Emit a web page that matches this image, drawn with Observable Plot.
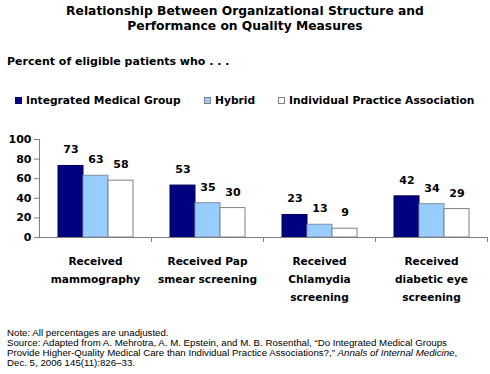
<!DOCTYPE html>
<html>
<head>
<meta charset="utf-8">
<script src="https://cdn.jsdelivr.net/npm/d3@7"></script>
<script src="https://cdn.jsdelivr.net/npm/@observablehq/plot@0.6"></script>
<style>
  html, body { margin: 0; padding: 0; background: #fff; }
  #wrap { position: relative; width: 490px; height: 374px; overflow: hidden; font-family: "DejaVu Sans", sans-serif; }
  #title { position: absolute; top: 4px; left: 0; width: 490px; text-align: center; font-weight: bold; font-size: 12.3px; line-height: 15px; }
  #subtitle { position: absolute; top: 55px; left: 7px; font-weight: bold; font-size: 11px; }
  #legend { position: absolute; top: 94px; left: 0; width: 490px; font-weight: bold; font-size: 10.7px; }
  .item { position: absolute; top: 0; white-space: nowrap; }
  .sw { display: inline-block; width: 7px; height: 7px; margin-right: 4px; vertical-align: 0px; box-sizing: border-box; }
  #chart { position: absolute; top: 125px; left: 0; }
  #footer { position: absolute; top: 328px; left: 7px; font-family: "Liberation Sans", Arial, sans-serif; font-size: 9.7px; line-height: 9.9px; color: #000; }
</style>
</head>
<body>
<div id="wrap">
  <div id="title">Relationship Between Organizational Structure and<br>Performance on Quality Measures</div>
  <div id="subtitle">Percent of eligible patients who . . .</div>
  <div id="legend"></div>
  <div id="chart"></div>
  <div id="footer">Note: All percentages are unadjusted.<br>Source: Adapted from A. Mehrotra, A. M. Epstein, and M. B. Rosenthal, “Do Integrated Medical Groups<br>Provide Higher-Quality Medical Care than Individual Practice Associations?,” <i>Annals of Internal Medicine</i>,<br>Dec. 5, 2006 145(11):826–33.</div>
</div>
<script>
const categories = ["Received\nmammography", "Received Pap\nsmear screening", "Received\nChlamydia\nscreening", "Received\ndiabetic eye\nscreening"];
const series = ["Integrated Medical Group", "Hybrid", "Individual Practice Association"];
const colors = ["#000080", "#99ccff", "#ffffff"];
const strokes = ["#000050", "#7f8fa8", "#808080"];
const integrated = [73, 53, 23, 42];
const hybrid = [63, 35, 13, 34];
const ipa = [58, 30, 9, 29];
const yTicks = [0, 20, 40, 60, 80, 100];
const legendX = [15, 204, 278];

const values = [integrated, hybrid, ipa];
const data = [];
categories.forEach((c, ci) => series.forEach((s, si) => data.push({category: c, series: s, value: values[si][ci]})));

// legend
const legend = document.getElementById("legend");
series.forEach((s, i) => {
  const it = document.createElement("div");
  it.className = "item";
  it.style.left = legendX[i] + "px";
  const sw = document.createElement("span");
  sw.className = "sw";
  sw.style.background = colors[i];
  sw.style.border = "1px solid " + (i === 0 ? colors[i] : "#808080");
  it.appendChild(sw);
  it.appendChild(document.createTextNode(s));
  legend.appendChild(it);
});

const chart = Plot.plot({
  width: 490,
  height: 180,
  marginLeft: 37,
  marginRight: 2,
  marginTop: 14,
  marginBottom: 68,
  style: {fontFamily: "DejaVu Sans", fontSize: "11px", fontWeight: "bold", background: "#fff", color: "#000"},
  fx: {domain: categories, padding: 0, axis: null},
  x: {domain: series, paddingInner: 0, paddingOuter: 0.73, axis: null},
  y: {domain: [0, 100], axis: null},
  color: {domain: series, range: colors},
  marks: [
    Plot.axisY({ticks: yTicks, label: null, tickSize: 5, tickPadding: 3, fontWeight: "bold", fontSize: 11, stroke: "#808080", color: "#000"}),
    Plot.barY(data, {fx: "category", x: "series", y: "value", fill: "series", stroke: d => strokes[series.indexOf(d.series)], strokeWidth: 1}),
    Plot.ruleY([0], {stroke: "#808080"}),
    Plot.frame({anchor: "left", stroke: "#808080", facetAnchor: "left"}),
    Plot.frame({anchor: "right", stroke: "#808080", insetTop: 98, insetBottom: -4}),
    Plot.text(data, {fx: "category", x: "series", y: "value", text: d => String(d.value), dy: -16, fontWeight: "bold", fontSize: 11, fill: "#000"}),
    Plot.text(categories, {fx: d => d, text: d => d, frameAnchor: "bottom", lineAnchor: "top", dy: 15, lineHeight: 1.68, fontWeight: "bold", fontSize: 10.6, fill: "#000"})
  ]
});
document.getElementById("chart").appendChild(chart);
</script>
</body>
</html>
